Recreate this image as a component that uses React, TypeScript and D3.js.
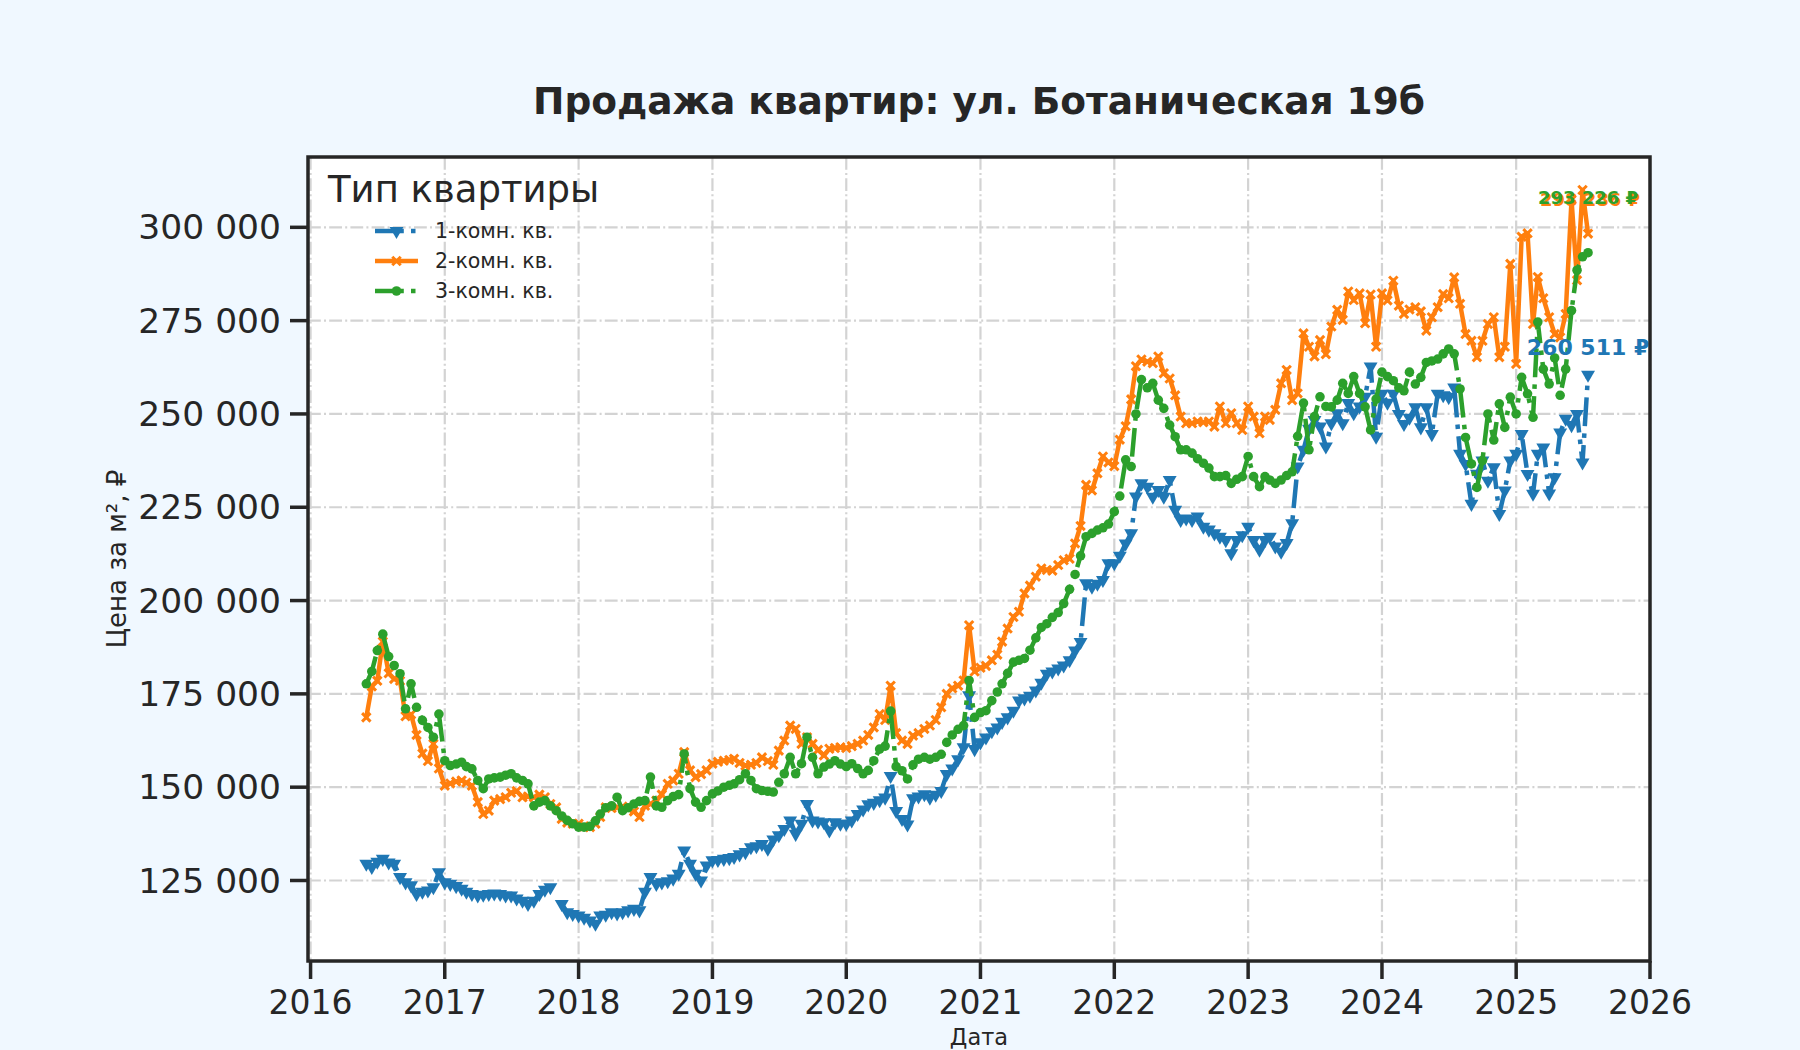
import React from "react";
import * as d3 from "d3";

// ── Data ──────────────────────────────────────────────────────
// Semi-monthly observations (1st and 16th), first one on 1 June 2016.
// Prices in thousands of rubles per m².
const START_YEAR = 2016;
const START_MONTH = 5; // June

const ONE_ROOM: (number | null)[] = [
  // 2016
  129.5, 128.6, 130, 130.8, 129.8, 129.5, 125.9, 124.5, 123.7, 121.4, 122, 122.3, 123.2, 127.2,
  // 2017
  124.5, 124.1, 123.5, 122.8, 122, 121.4, 121, 121.2, 121.4, 121.5, 121.4, 121,
  121, 120.2, 119.6, 118.7, 119.6, 121.4, 122.5, 123.2, null, 118.7, 116.5, 116,
  // 2018
  115.6, 115, 114.3, 113.4, 115.6, 115.8, 116.5, 116.2, 116.5, 117, 117.4, 117,
  122, 125.9, 124.1, 124.5, 124.8, 125.5, 126.8, 133, 129.5, 126.8, 125, 129,
  // 2019
  130.4, 130.5, 130.8, 131, 131.3, 132, 132.6, 133.9, 134.2, 134.8, 133.5, 136,
  137.1, 138.8, 141.1, 137.5, 140.2, 145.5, 141.1, 140.8, 140.6, 138.4, 140.6, 140.2,
  // 2020
  140.2, 141.1, 142.8, 144, 145.4, 145.8, 146.5, 147.2, 153, 143.6, 141.5, 140,
  147, 147.5, 148.1, 147.2, 148, 149, 153.5, 155, 157.5, 160.7, 174.6, 160.2,
  // 2021
  162, 163.3, 165, 166, 167.5, 168.7, 170.5, 173.2, 173.8, 174.5, 175.9, 178,
  180.4, 181, 181.8, 182.6, 184, 186.6, 188.9, 204.6, 203.7, 204.5, 205.5, 210,
  // 2022
  210, 212, 215.3, 218, 227.9, 231.4, 230.5, 227.8, 229.6, 227.8, 232.3, 224.3,
  221.6, 222, 221.6, 222.5, 219.8, 219, 218, 217.1, 216.2, 212.7, 216.2, 217.5,
  // 2023
  219.8, 216.2, 213.6, 216.2, 217.1, 214.5, 213.1, 215.4, 220.7, 235.9, 240.4, 246,
  248.4, 246.6, 241.3, 247.5, 250.2, 247.5, 252.9, 250.2, 252, 254.6, 262.7, 243.9,
  // 2024
  255.4, 253, 255.4, 250, 247.3, 249, 251.8, 246.4, 251.8, 244.6, 255.4, 255,
  254.5, 257.1, 239.3, 236.6, 225.9, 234, 237.5, 232.1, 235.7, 223.2, 229.5, 237.5,
  // 2025
  239.3, 244.6, 233.9, 228.6, 239.3, 241, 228.7, 233, 245, 248.7, 247, 250, 237, 260.5,
];

const TWO_ROOM: (number | null)[] = [
  // 2016
  168.7, 177, 178.5, 189, 180.5, 179, 178.5, 169, 169.5, 164, 159, 157, 161.6, 155,
  // 2017
  150.4, 151, 151.5, 151.8, 151.2, 150.4, 146, 142.8, 143.7, 146.4, 146.8, 147.3,
  148.5, 149, 147.3, 147.5, 147.3, 148, 147.3, 145.5, 144.6, 141.5, 140.5, 140.2,
  // 2018
  140.2, 139.5, 139.3, 140.2, 142, 144.6, 144.4, 144.6, 144.8, 144.2, 143.5, 142,
  145, 145.5, 146.4, 148, 150.9, 151.8, 153.6, 159.4, 154.5, 152.7, 153.5, 154.5,
  // 2019
  156.3, 156.8, 157.1, 157.3, 157.6, 156.5, 155.8, 156, 156.5, 158, 157, 156,
  159.8, 162.5, 166.5, 165.6, 161.6, 163.4, 161.6, 160, 158.5, 160.3, 160.5, 160.7,
  // 2020
  160.5, 161, 161.6, 162.5, 164, 166, 169.6, 168, 177.2, 164.5, 162.5, 161.6,
  163.8, 164.5, 165.6, 166.5, 168, 171.4, 175, 176.5, 177.2, 178.6, 193.4, 181,
  // 2021
  182, 182.5, 184, 185.5, 189, 192.5, 195.6, 197, 201.9, 204, 206.4, 208.6,
  208.2, 208, 209.5, 210.8, 211.2, 215.3, 220, 231, 229.5, 234.1, 238.6, 237,
  // 2022
  236, 243.1, 246.7, 253.9, 262.8, 264.6, 264, 263.6, 265.4, 260.9, 259.5, 255,
  249.3, 247.5, 247.5, 248, 247.8, 248, 246.6, 252, 247.5, 250.2, 247.5, 245.7,
  // 2023
  252, 249.3, 244.8, 249.3, 248.4, 251.1, 258.2, 261.8, 253.7, 255.5, 271.6, 268,
  265.4, 269.8, 266, 273.4, 277.9, 275.2, 282.8, 280.5, 282.3, 274.3, 282, 268,
  // 2024
  282.3, 280.4, 285.7, 279, 276.8, 278, 278.6, 277.5, 272.3, 275.9, 278.6, 282.1,
  281, 286.6, 279.5, 271.4, 269.6, 265.2, 269.6, 274.1, 275.9, 265.2, 268, 290.2,
  // 2025
  263.4, 297.5, 298.4, 274.1, 286.7, 281, 275.9, 271.4, 270.5, 276.8, 307.4, 285.8, 310, 298.3,
];

const THREE_ROOM: (number | null)[] = [
  // 2016
  177.7, 181, 186.6, 191, 185, 182.6, 180.4, 171, 177.7, 171.4, 167.9, 166, 163.4, 169.6,
  // 2017
  157.1, 155.8, 156.2, 156.7, 155.5, 154.9, 151.8, 149.6, 152.2, 152.5, 152.7, 153.2,
  153.6, 152.5, 151.8, 150.9, 145, 146, 146.4, 145, 143.7, 142.3, 141.1, 140.2,
  // 2018
  139.3, 139.3, 139.5, 141, 142.8, 144.5, 145, 147.3, 143.7, 144.5, 145.5, 146.2,
  146.4, 152.7, 145, 144.6, 146.4, 147.5, 148, 158.9, 149.6, 146, 144.6, 146.4,
  // 2019
  148.2, 149, 150, 150.5, 150.9, 152, 153.6, 151.8, 149.6, 149.1, 148.9, 148.7,
  151.3, 153.6, 158, 153.6, 156.3, 163.4, 158, 153.6, 155.4, 156.2, 157.1, 156.2,
  // 2020
  155.5, 156.3, 155, 153.6, 154.5, 157.1, 160.2, 161, 170.4, 155.5, 154.4, 152.2,
  156, 157.5, 158, 157.5, 158, 158.8, 162, 164, 165.5, 166.5, 178.6, 168.7,
  // 2021
  170, 170.5, 173.2, 175.5, 177.7, 180.5, 183.5, 184, 184.5, 186.7, 190, 192.8,
  193.8, 195.5, 196.8, 199.2, 203, 207, 212, 217.1, 218, 218.9, 219.5, 220.5,
  // 2022
  223.8, 228, 237.7, 235.9, 250, 259.2, 257, 258.2, 253.7, 251.5, 247, 243.9,
  240.4, 240.4, 239.5, 238, 236.8, 235.5, 233.2, 233.2, 233.5, 231.4, 232.5, 233.2,
  // 2023
  238.6, 233.2, 230.5, 233.2, 232.3, 231.4, 232.3, 233.5, 234.5, 244, 252.9, 240.4,
  249.3, 254.6, 252, 251.9, 253.7, 258.2, 255.5, 260, 255.5, 251.9, 245.7, 254,
  // 2024
  261.2, 260, 258.9, 257, 256.2, 261.2, 258, 259.8, 263.8, 264.2, 264.7, 266.1,
  267.4, 266.1, 256.7, 243.7, 236.6, 230.3, 237.5, 250, 243, 252.7, 246.4, 254.5,
  // 2025
  250, 259.8, 255.4, 249.1, 274.6, 262, 258, 265, 255, 262, 277.7, 288.5, 292.1, 293.2,
];

const SERIES_NAMES = ["1-комн. кв.", "2-комн. кв.", "3-комн. кв."];
const END_LABELS = ["260 511 ₽", "298 286 ₽", "293 226 ₽"];
const Y_TICKS = [125000, 150000, 175000, 200000, 225000, 250000, 275000, 300000];
const X_TICK_YEARS = [2016, 2017, 2018, 2019, 2020, 2021, 2022, 2023, 2024, 2025, 2026];

const TITLE = "Продажа квартир: ул. Ботаническая 19б";
const LEGEND_TITLE = "Тип квартиры";
const Y_LABEL = "Цена за м², ₽";
const X_LABEL = "Дата";

// ── Styling ───────────────────────────────────────────────────
const W = 1800;
const H = 1050;
const BOX = { left: 308, right: 1650, top: 157, bottom: 961 };
const FONT = "'DejaVu Sans', sans-serif";
const INK = "#262626";
const GRID = "#d3d3d3";
const LW = 4.5;
const DASHDOT = `${6.4 * LW} ${1.6 * LW} ${LW} ${1.6 * LW}`;

type MarkerKind = "tri" | "x" | "dot";
interface SeriesStyle {
  color: string;
  dash: string | undefined;
  marker: MarkerKind;
  // where the value label sits (data units, y) above the last point
  labelAt: number;
  labelDx: number;
  labelSize: number;
}
const STYLES: SeriesStyle[] = [
  { color: "#1f77b4", dash: DASHDOT, marker: "tri", labelAt: 267900, labelDx: 0, labelSize: 22 },
  { color: "#ff7f0e", dash: undefined, marker: "x", labelAt: 307500, labelDx: 2, labelSize: 18 },
  { color: "#2ca02c", dash: DASHDOT, marker: "dot", labelAt: 308000, labelDx: 0, labelSize: 18 },
];

const dateAt = (i: number) =>
  new Date(START_YEAR, START_MONTH + Math.floor(i / 2), i % 2 === 0 ? 1 : 16);

const fmt = (v: number) => d3.format(",")(v).replace(/,/g, " ");

const triPath = d3.symbol(d3.symbolTriangle, 84)() ?? "";
const xPath = d3.symbol(d3.symbolX, 48)() ?? "";
const dotPath = d3.symbol(d3.symbolCircle, 72)() ?? "";

function Marker({ kind, color, x, y }: { kind: MarkerKind; color: string; x: number; y: number }) {
  if (kind === "tri")
    return <path d={triPath} transform={`translate(${x},${y}) rotate(180)`} fill={color} />;
  if (kind === "x")
    return <path d={xPath} transform={`translate(${x},${y})`} fill="none" stroke={color} strokeWidth={3} />;
  return <path d={dotPath} transform={`translate(${x},${y})`} fill={color} />;
}

export default function App() {
  const series = [ONE_ROOM, TWO_ROOM, THREE_ROOM];

  const x = d3
    .scaleTime()
    .domain([new Date(2015, 11, 25), new Date(2026, 0, 1)])
    .range([BOX.left, BOX.right]);

  const y = d3.scaleLinear().domain([103430, 318840]).range([BOX.bottom, BOX.top]);

  const line = d3
    .line<number | null>()
    .defined((v) => v != null)
    .x((_v, i) => x(dateAt(i)))
    .y((v) => y((v as number) * 1000));

  const cx = (BOX.left + BOX.right) / 2;
  const cy = (BOX.top + BOX.bottom) / 2;

  return (
    <div style={{ position: "absolute", left: 0, top: 0 }}>
      <svg width={W} height={H} style={{ display: "block", fontFamily: FONT }}>
        <defs>
          <clipPath id="plot-area">
            <rect x={BOX.left} y={BOX.top} width={BOX.right - BOX.left} height={BOX.bottom - BOX.top} />
          </clipPath>
        </defs>
        <rect width={W} height={H} fill="#f0f8ff" />
        <rect x={BOX.left} y={BOX.top} width={BOX.right - BOX.left} height={BOX.bottom - BOX.top} fill="#ffffff" />

        {/* Grid */}
        <g stroke={GRID} strokeWidth={2.2} strokeDasharray="12.8 3.2 2 3.2">
          {X_TICK_YEARS.map((yr) => {
            const px = x(new Date(yr, 0, 1));
            return <line key={yr} x1={px} x2={px} y1={BOX.top} y2={BOX.bottom} />;
          })}
          {Y_TICKS.map((t) => (
            <line key={t} x1={BOX.left} x2={BOX.right} y1={y(t)} y2={y(t)} />
          ))}
        </g>

        {/* Series */}
        <g clipPath="url(#plot-area)">
          {series.map((vals, si) => {
            const st = STYLES[si];
            return (
              <g key={si}>
                <path
                  d={line(vals) ?? ""}
                  fill="none"
                  stroke={st.color}
                  strokeWidth={LW}
                  strokeDasharray={st.dash}
                  strokeLinejoin="round"
                />
                {vals.map((v, i) =>
                  v == null ? null : (
                    <Marker key={i} kind={st.marker} color={st.color} x={x(dateAt(i))} y={y(v * 1000)} />
                  )
                )}
              </g>
            );
          })}
        </g>

        {/* End-of-line value labels */}
        {series.map((vals, si) => {
          const st = STYLES[si];
          const last = vals.length - 1;
          return (
            <text
              key={si}
              x={x(dateAt(last)) + st.labelDx}
              y={y(st.labelAt)}
              dy="0.35em"
              textAnchor="middle"
              fontSize={st.labelSize}
              fontWeight="bold"
              fill={st.color}
            >
              {END_LABELS[si]}
            </text>
          );
        })}

        {/* Legend */}
        <text x={328} y={202} fontSize={37} fill={INK}>
          {LEGEND_TITLE}
        </text>
        {SERIES_NAMES.map((name, si) => {
          const st = STYLES[si];
          const ry = 231 + si * 30;
          return (
            <g key={name}>
              <line
                x1={375}
                x2={418}
                y1={ry}
                y2={ry}
                stroke={st.color}
                strokeWidth={LW}
                strokeDasharray={st.dash}
              />
              <Marker kind={st.marker} color={st.color} x={396.5} y={ry} />
              <text x={435} y={ry} dy="0.35em" fontSize={20.5} fill={INK}>
                {name}
              </text>
            </g>
          );
        })}

        {/* Spines */}
        <rect
          x={BOX.left}
          y={BOX.top}
          width={BOX.right - BOX.left}
          height={BOX.bottom - BOX.top}
          fill="none"
          stroke={INK}
          strokeWidth={3.5}
        />

        {/* Y axis */}
        {Y_TICKS.map((t) => (
          <g key={t}>
            <line x1={BOX.left - 18} x2={BOX.left} y1={y(t)} y2={y(t)} stroke={INK} strokeWidth={3.5} />
            <text x={BOX.left - 27} y={y(t)} dy="0.35em" textAnchor="end" fontSize={34.5} fill={INK}>
              {fmt(t)}
            </text>
          </g>
        ))}

        {/* X axis */}
        {X_TICK_YEARS.map((yr) => {
          const px = x(new Date(yr, 0, 1));
          return (
            <g key={yr}>
              <line x1={px} x2={px} y1={BOX.bottom} y2={BOX.bottom + 18} stroke={INK} strokeWidth={3.5} />
              <text x={px} y={BOX.bottom + 53} textAnchor="middle" fontSize={33} fill={INK}>
                {yr}
              </text>
            </g>
          );
        })}

        {/* Axis labels and title */}
        <text x={cx} y={1045} textAnchor="middle" fontSize={22.5} fill={INK}>
          {X_LABEL}
        </text>
        <text
          transform={`translate(117,${cy}) rotate(-90)`}
          dy="0.35em"
          textAnchor="middle"
          fontSize={26}
          fill={INK}
        >
          {Y_LABEL}
        </text>
        <text x={cx} y={114} textAnchor="middle" fontSize={37.5} fontWeight="bold" fill={INK}>
          {TITLE}
        </text>
      </svg>
    </div>
  );
}
